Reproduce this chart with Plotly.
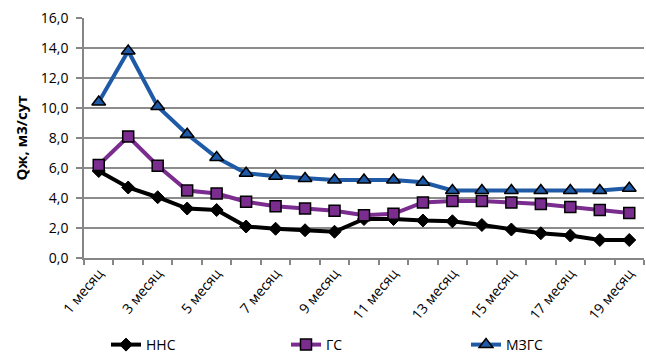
import plotly.graph_objects as go

categories = [f"{i} месяц" for i in range(1, 20)]
nns = [5.8, 4.7, 4.05, 3.3, 3.2, 2.1, 1.95, 1.85, 1.75, 2.6, 2.6, 2.5, 2.45, 2.2, 1.9, 1.65, 1.5, 1.2, 1.2]
gs = [6.2, 8.1, 6.15, 4.5, 4.3, 3.75, 3.45, 3.3, 3.15, 2.85, 2.95, 3.7, 3.8, 3.8, 3.7, 3.6, 3.4, 3.2, 3.0]
mzgs = [10.4, 13.8, 10.1, 8.25, 6.7, 5.65, 5.45, 5.3, 5.2, 5.2, 5.2, 5.05, 4.5, 4.5, 4.5, 4.5, 4.5, 4.5, 4.65]
y_ticks = [0, 2, 4, 6, 8, 10, 12, 14, 16]

x = list(range(1, len(categories) + 1))
shown = [i for i in x if i % 2 == 1]

fig = go.Figure()
fig.add_trace(go.Scatter(x=x, y=nns, name="ННС", mode="lines+markers",
                         line=dict(color="#000000", width=4),
                         marker=dict(symbol="diamond", size=10, color="#000000",
                                     line=dict(color="#000000", width=1))))
fig.add_trace(go.Scatter(x=x, y=gs, name="ГС", mode="lines+markers",
                         line=dict(color="#7B2C8F", width=4),
                         marker=dict(symbol="square", size=11, color="#7B2C8F",
                                     line=dict(color="#000000", width=1.5))))
fig.add_trace(go.Scatter(x=x, y=mzgs, name="МЗГС", mode="lines+markers",
                         line=dict(color="#1F5AA6", width=4),
                         marker=dict(symbol="triangle-up", size=12, color="#1F5AA6",
                                     line=dict(color="#000000", width=1.5))))

fig.update_layout(
    width=646, height=361,
    margin=dict(l=84, r=2, t=18, b=103),
    paper_bgcolor="white", plot_bgcolor="white",
    separators=", ",
    font=dict(family="Open Sans, Liberation Sans, sans-serif", size=14, color="#000000"),
    showlegend=True,
    legend=dict(orientation="h", x=0.574, xanchor="center", y=0, yref="container",
                yanchor="bottom", font=dict(size=14),
                entrywidthmode="pixels", entrywidth=135, tracegroupgap=0),
    xaxis=dict(
        range=[0.5, len(categories) + 0.5],
        tickmode="array", tickvals=shown, ticktext=[categories[i - 1] for i in shown],
        tickangle=-50, ticks="", showgrid=False,
        showline=True, linecolor="#868686", linewidth=1.5,
        tickfont=dict(size=14),
        minor=dict(tickmode="linear", tick0=0.5, dtick=1, ticks="outside", ticklen=5,
                   tickcolor="#868686", tickwidth=1.5, showgrid=False),
        zeroline=False,
    ),
)
fig.update_yaxes(
    range=[0, 16], tickmode="array", tickvals=y_ticks,
    tickformat=".1f",
    showgrid=True, gridcolor="#8C8C8C", gridwidth=1.5,
    showline=True, linecolor="#868686", linewidth=1.5,
    ticks="outside", ticklen=6, tickcolor="#868686", tickwidth=1.5,
    ticklabelstandoff=5,
    zeroline=False,
    title=dict(text="<b>Qж, м3/сут</b>", font=dict(size=15), standoff=10),
)

fig.write_html("out.html")
